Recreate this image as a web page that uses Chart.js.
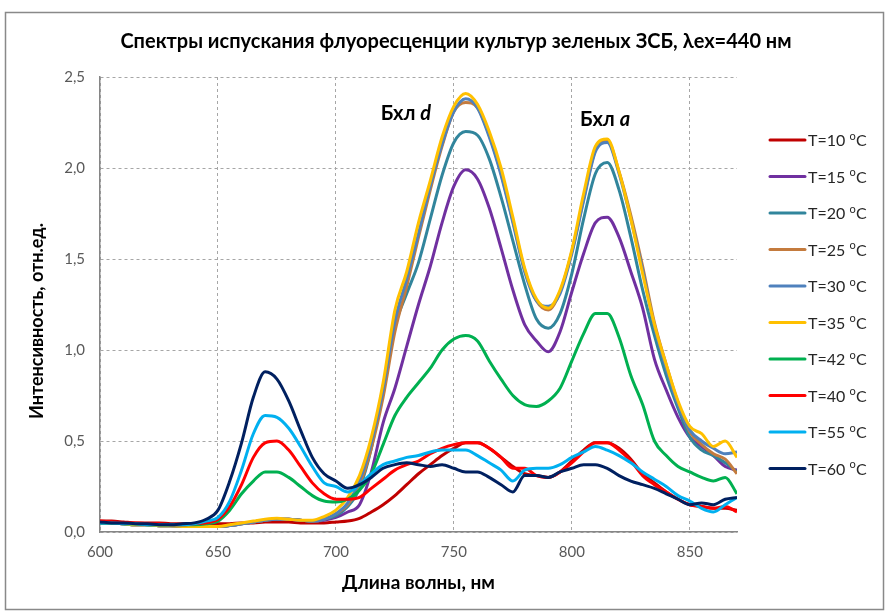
<!DOCTYPE html>
<html>
<head>
<meta charset="utf-8">
<script src="https://cdn.jsdelivr.net/npm/chart.js@4.4.1/dist/chart.umd.min.js"></script>
<style>
  html, body { margin: 0; padding: 0; background: #ffffff; }
  canvas { display: block; }
</style>
</head>
<body>
<canvas id="chart" width="889" height="613"></canvas>
<script>
// Wavelength grid, nm
const wavelengths = [600,605,610,615,620,625,630,635,640,645,
  650,655,660,665,670,675,680,685,690,695,
  700,705,710,715,720,725,730,735,740,745,
  750,755,760,765,770,775,780,785,790,795,
  800,805,810,815,820,825,830,835,840,845,
  850,855,860,865,870];

// Fluorescence intensity, rel. units, one array per growth temperature
const t10 = [0.06,0.06,0.055,0.05,0.05,0.05,0.045,0.045,0.045,0.045,
  0.045,0.045,0.05,0.05,0.055,0.055,0.055,0.05,0.05,0.05,
  0.055,0.06,0.075,0.11,0.15,0.20,0.26,0.32,0.37,0.42,
  0.46,0.49,0.49,0.46,0.41,0.36,0.32,0.31,0.30,0.33,
  0.39,0.45,0.49,0.49,0.46,0.40,0.32,0.27,0.22,0.18,
  0.15,0.14,0.13,0.13,0.12];
const t15 = [0.05,0.05,0.045,0.04,0.04,0.035,0.035,0.03,0.03,0.03,
  0.03,0.035,0.045,0.055,0.065,0.07,0.07,0.065,0.06,0.065,
  0.08,0.11,0.15,0.33,0.60,0.79,1.02,1.25,1.46,1.70,
  1.90,1.99,1.94,1.78,1.56,1.33,1.14,1.05,0.99,1.10,
  1.32,1.53,1.70,1.73,1.62,1.43,1.23,0.95,0.78,0.63,
  0.52,0.47,0.42,0.36,0.34];
const t20 = [0.05,0.05,0.045,0.04,0.04,0.035,0.035,0.03,0.03,0.03,
  0.03,0.035,0.045,0.055,0.065,0.07,0.07,0.065,0.06,0.07,
  0.09,0.14,0.24,0.46,0.80,1.13,1.31,1.48,1.72,1.96,
  2.14,2.20,2.18,2.05,1.84,1.60,1.36,1.17,1.12,1.20,
  1.42,1.72,1.97,2.03,1.88,1.62,1.33,1.08,0.86,0.68,
  0.52,0.45,0.42,0.38,0.33];
const t25 = [0.05,0.05,0.045,0.04,0.04,0.035,0.035,0.03,0.03,0.03,
  0.03,0.035,0.045,0.055,0.065,0.07,0.07,0.065,0.06,0.07,
  0.10,0.15,0.26,0.46,0.74,1.10,1.35,1.62,1.88,2.12,
  2.31,2.36,2.33,2.18,1.97,1.71,1.44,1.27,1.22,1.32,
  1.54,1.83,2.10,2.15,1.98,1.74,1.46,1.15,0.92,0.71,
  0.55,0.48,0.43,0.40,0.32];
const t30 = [0.05,0.05,0.045,0.04,0.04,0.035,0.035,0.03,0.03,0.03,
  0.03,0.035,0.045,0.055,0.065,0.07,0.07,0.065,0.06,0.07,
  0.10,0.16,0.28,0.49,0.78,1.16,1.39,1.64,1.90,2.13,
  2.31,2.38,2.33,2.17,1.96,1.70,1.43,1.27,1.24,1.31,
  1.53,1.82,2.09,2.14,1.97,1.72,1.44,1.13,0.90,0.70,
  0.56,0.50,0.46,0.43,0.44];
const t35 = [0.055,0.05,0.045,0.04,0.04,0.035,0.035,0.03,0.03,0.03,
  0.03,0.04,0.05,0.06,0.07,0.075,0.07,0.065,0.065,0.085,
  0.12,0.19,0.31,0.52,0.82,1.22,1.43,1.70,1.93,2.17,
  2.34,2.41,2.35,2.20,2.00,1.73,1.45,1.28,1.23,1.33,
  1.55,1.86,2.12,2.16,1.98,1.72,1.42,1.14,0.92,0.72,
  0.58,0.54,0.47,0.50,0.41];
const t42 = [0.05,0.05,0.045,0.045,0.04,0.04,0.04,0.04,0.04,0.045,
  0.06,0.12,0.21,0.28,0.33,0.33,0.30,0.25,0.20,0.17,
  0.165,0.18,0.23,0.32,0.48,0.64,0.74,0.82,0.90,1.00,
  1.06,1.08,1.05,0.94,0.84,0.75,0.70,0.69,0.72,0.79,
  0.94,1.09,1.20,1.20,1.07,0.86,0.70,0.50,0.42,0.36,
  0.33,0.30,0.28,0.30,0.21];
const t40 = [0.06,0.055,0.05,0.05,0.045,0.045,0.04,0.04,0.045,0.05,
  0.07,0.14,0.26,0.41,0.49,0.50,0.45,0.36,0.27,0.21,
  0.18,0.18,0.19,0.24,0.29,0.34,0.37,0.39,0.43,0.46,
  0.48,0.49,0.49,0.46,0.41,0.35,0.35,0.31,0.30,0.33,
  0.38,0.44,0.49,0.49,0.45,0.39,0.31,0.26,0.22,0.18,
  0.15,0.14,0.13,0.14,0.11];
const t55 = [0.05,0.05,0.045,0.045,0.04,0.04,0.04,0.04,0.045,0.06,
  0.08,0.17,0.34,0.54,0.64,0.63,0.57,0.47,0.36,0.27,
  0.25,0.22,0.26,0.32,0.37,0.39,0.41,0.42,0.44,0.45,
  0.45,0.45,0.42,0.38,0.34,0.28,0.34,0.35,0.35,0.37,
  0.41,0.44,0.47,0.45,0.42,0.38,0.33,0.29,0.25,0.20,
  0.17,0.13,0.11,0.15,0.19];
const t60 = [0.055,0.05,0.05,0.045,0.045,0.04,0.04,0.045,0.05,0.07,
  0.12,0.28,0.49,0.74,0.88,0.84,0.72,0.56,0.41,0.32,
  0.28,0.24,0.26,0.30,0.35,0.37,0.38,0.37,0.36,0.37,
  0.35,0.33,0.33,0.30,0.26,0.22,0.31,0.31,0.30,0.33,
  0.35,0.37,0.37,0.35,0.31,0.28,0.26,0.24,0.21,0.18,
  0.15,0.16,0.15,0.18,0.19];

// Temperatures for the legend, in legend order
const temperatures = ['10', '15', '20', '25', '30', '35', '42', '40', '55', '60'];
const seriesValues = [t10, t15, t20, t25, t30, t35, t42, t40, t55, t60];
const seriesColors = ['#C00000', '#7030A0', '#31859C', '#C47B3E', '#4F81BD',
                      '#FFC000', '#00B050', '#FF0000', '#00B0F0', '#002060'];

// Axis ticks
const xTicks = [600, 650, 700, 750, 800, 850];
const yTicks = [0, 0.5, 1.0, 1.5, 2.0, 2.5];

// Texts
const chartTitle = 'Спектры испускания флуоресценции культур зеленых ЗСБ, λex=440 нм';
const xTitle = 'Длина волны, нм';
const yTitle = 'Интенсивность, отн.ед.';

// Peak labels: [text, italic part, wavelength, intensity]
const peakLabels = [['Бхл ', 'd', 719, 2.30], ['Бхл ', 'a', 803.5, 2.265]];

const FONT = 'Lato, "Liberation Sans", Arial, sans-serif';
Chart.defaults.font.family = FONT;

const datasets = seriesValues.map((vals, i) => ({
  label: 'T=' + temperatures[i] + ' oC',
  data: vals.map((v, j) => ({ x: wavelengths[j], y: v })),
  borderColor: seriesColors[i],
  backgroundColor: seriesColors[i],
  borderWidth: 3,
  pointRadius: 0,
  fill: false,
  cubicInterpolationMode: 'monotone',
  order: seriesValues.length - i
}));

// Frame, chart title and axis titles
const framePlugin = {
  id: 'frame',
  beforeDraw(chart) {
    const ctx = chart.ctx;
    ctx.save();
    ctx.fillStyle = '#ffffff';
    ctx.fillRect(0, 0, chart.width, chart.height);
    ctx.strokeStyle = '#898989';
    ctx.lineWidth = 1.5;
    ctx.strokeRect(5.5, 12.5, 878, 597);
    ctx.restore();
  },
  afterDraw(chart) {
    const ctx = chart.ctx;
    const area = chart.chartArea;
    ctx.save();
    ctx.fillStyle = '#000000';
    ctx.textAlign = 'center';
    ctx.textBaseline = 'middle';
    ctx.font = 'bold 20px ' + FONT;
    ctx.fillText(chartTitle, 456, 42);
    ctx.font = 'bold 19px ' + FONT;
    ctx.fillText(xTitle, (area.left + area.right) / 2, 583);
    ctx.translate(37, 321);
    ctx.rotate(-Math.PI / 2);
    ctx.font = 'bold 18px ' + FONT;
    ctx.fillText(yTitle, 0, 0);
    ctx.restore();
  }
};

// Band labels above the two emission maxima
const peakLabelPlugin = {
  id: 'peakLabels',
  afterDatasetsDraw(chart) {
    const ctx = chart.ctx;
    const xs = chart.scales.x, ys = chart.scales.y;
    ctx.save();
    ctx.fillStyle = '#000000';
    ctx.textBaseline = 'middle';
    ctx.textAlign = 'left';
    peakLabels.forEach(([plain, ital, wl, val]) => {
      const px = xs.getPixelForValue(wl);
      const py = ys.getPixelForValue(val);
      ctx.font = 'bold 20px ' + FONT;
      ctx.fillText(plain, px, py);
      const w = ctx.measureText(plain).width;
      ctx.font = 'italic bold 20px ' + FONT;
      ctx.fillText(ital, px + w, py);
    });
    ctx.restore();
  }
};

// Legend with line samples and a raised "o" for degrees
const legendPlugin = {
  id: 'sideLegend',
  afterDraw(chart) {
    const ctx = chart.ctx;
    ctx.save();
    chart.data.datasets.forEach((ds, i) => {
      const y = 140 + i * 36.5;
      ctx.strokeStyle = ds.borderColor;
      ctx.lineWidth = 3;
      ctx.lineCap = 'round';
      ctx.beginPath();
      ctx.moveTo(770, y);
      ctx.lineTo(805, y);
      ctx.stroke();
      ctx.fillStyle = '#262626';
      ctx.textBaseline = 'middle';
      ctx.textAlign = 'left';
      ctx.font = '16px ' + FONT;
      let x = 808;
      const head = 'T=' + temperatures[i] + ' ';
      ctx.fillText(head, x, y + 1);
      x += ctx.measureText(head).width;
      ctx.font = '11px ' + FONT;
      ctx.fillText('o', x, y - 4);
      x += ctx.measureText('o').width + 0.5;
      ctx.font = '16px ' + FONT;
      ctx.fillText('C', x, y + 1);
    });
    ctx.restore();
  }
};

new Chart(document.getElementById('chart'), {
  type: 'line',
  data: { datasets },
  plugins: [framePlugin, peakLabelPlugin, legendPlugin],
  options: {
    responsive: false,
    animation: false,
    devicePixelRatio: 1,
    layout: { padding: { left: 0, right: 152, top: 77, bottom: 0 } },
    plugins: {
      legend: { display: false },
      tooltip: { enabled: false },
      title: { display: false }
    },
    scales: {
      x: {
        type: 'linear',
        min: 600,
        max: 870,
        afterBuildTicks: (scale) => { scale.ticks = xTicks.map(v => ({ value: v })); },
        afterFit: (scale) => { scale.height = 81; },
        ticks: {
          color: '#595959',
          font: { size: 15 },
          padding: 11,
          maxRotation: 0
        },
        grid: { color: '#a6a6a6', lineWidth: 1, drawTicks: false },
        border: { color: '#868686', width: 1.5, dash: [3, 3] }
      },
      y: {
        type: 'linear',
        min: 0,
        max: 2.5,
        afterBuildTicks: (scale) => { scale.ticks = yTicks.map(v => ({ value: v })); },
        afterFit: (scale) => { scale.width = 100; },
        ticks: {
          color: '#595959',
          font: { size: 15 },
          padding: 15,
          callback: (v) => Number(v).toFixed(1).replace('.', ',')
        },
        grid: { color: '#a6a6a6', lineWidth: 1, drawTicks: false },
        border: { color: '#868686', width: 1.5, dash: [3, 3] }
      }
    }
  }
});
</script>
</body>
</html>
